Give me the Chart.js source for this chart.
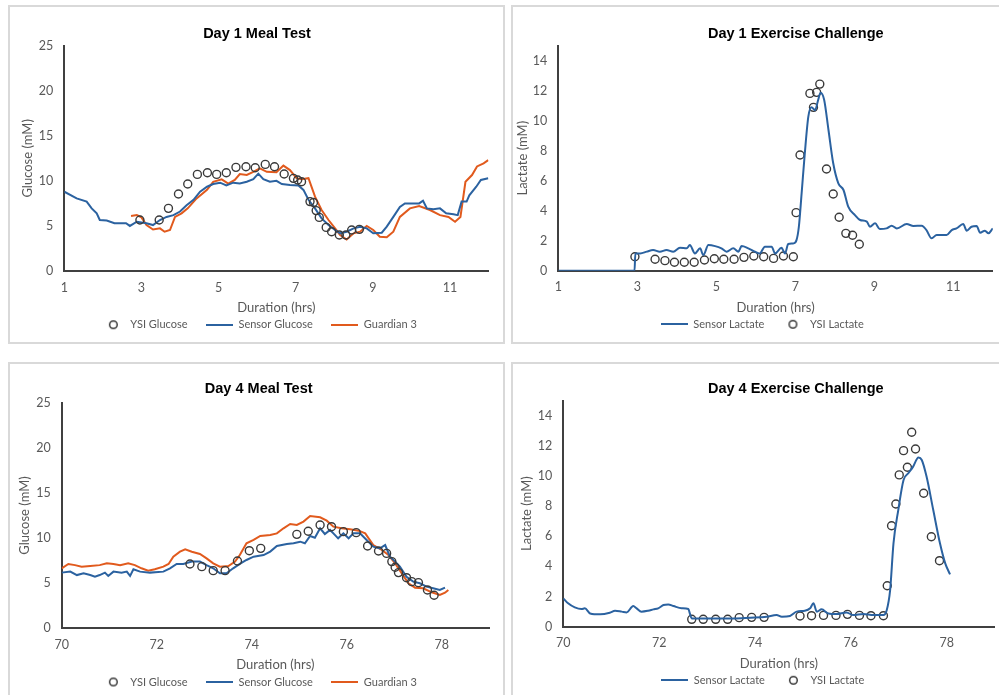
<!DOCTYPE html>
<html>
<head>
<meta charset="utf-8">
<script src="https://cdn.jsdelivr.net/npm/chart.js@4.4.1/dist/chart.umd.min.js"></script>
<style>
html,body{margin:0;padding:0;background:#fff;width:999px;height:695px;overflow:hidden;position:relative;}
.box{position:absolute;box-sizing:border-box;border:2px solid #d9d9d9;background:transparent;}
canvas{position:absolute;}
</style>
</head>
<body>
<script>
// ---------------- DATA ----------------
// Day 1 Meal Test
const d1MealSensorT = [1.0,1.32,1.58,1.71,1.84,1.92,2.1,2.3,2.6,2.7,2.88,3.13,3.3,3.48,3.65,3.83,4.0,4.17,4.35,4.52,4.7,4.86,5.04,5.2,5.38,5.55,5.73,5.9,6.03,6.16,6.33,6.5,6.64,6.85,7.07,7.2,7.33,7.5,7.67,7.85,8.02,8.15,8.32,8.5,8.67,8.84,9.01,9.23,9.36,9.53,9.7,9.83,10.05,10.2,10.3,10.4,10.57,10.74,10.9,11.09,11.2,11.3,11.43,11.5,11.68,11.8,11.99];
const d1MealSensorG = [8.8,8.06,7.7,6.95,6.4,5.66,5.6,5.3,5.3,5.0,5.47,5.3,5.1,5.66,6.0,6.2,6.6,7.3,7.9,8.8,9.35,9.65,9.8,9.5,9.8,9.7,9.9,10.2,10.8,10.2,9.9,10.0,9.65,9.55,9.5,9.0,7.9,6.95,5.84,5.1,4.55,4.18,4.36,4.73,4.92,4.73,4.18,4.25,4.92,6.0,7.1,7.5,7.5,7.5,7.8,6.95,6.84,6.95,6.4,6.3,6.2,7.7,7.7,8.4,9.35,10.1,10.3];
const d1MealG3T = [2.73,2.88,3.0,3.13,3.3,3.48,3.6,3.74,3.87,4.04,4.2,4.43,4.7,4.86,5.08,5.25,5.42,5.55,5.73,5.9,6.07,6.25,6.5,6.68,6.85,7.02,7.15,7.33,7.5,7.67,7.85,8.02,8.15,8.32,8.5,8.67,8.84,9.01,9.18,9.36,9.53,9.7,9.96,10.2,10.48,10.74,10.96,11.13,11.27,11.4,11.57,11.7,11.87,11.99];
const d1MealG3G = [6.1,6.2,5.95,5.1,4.6,4.73,4.36,4.55,6.0,6.4,6.95,8.06,9.0,9.9,10.17,9.7,10.1,10.76,10.65,11.0,11.4,11.0,10.95,11.7,11.2,10.3,10.17,10.3,8.25,6.77,5.66,4.73,4.0,3.5,4.18,4.36,5.0,4.55,3.8,3.74,4.36,6.0,6.95,7.2,6.77,6.2,6.0,5.47,6.0,9.9,10.65,11.6,11.95,12.3];
const d1MealYsiT = [2.96,3.46,3.7,3.96,4.2,4.45,4.71,4.95,5.2,5.45,5.71,5.95,6.21,6.45,6.7,6.94,7.05,7.15,7.37,7.46,7.53,7.61,7.79,7.93,8.13,8.3,8.45,8.65];
const d1MealYsiG = [5.66,5.66,6.95,8.54,9.65,10.72,10.9,10.72,10.9,11.5,11.57,11.46,11.83,11.57,10.76,10.28,10.1,9.9,7.7,7.6,6.7,5.95,4.84,4.36,4.0,4.0,4.55,4.62];

// Day 1 Exercise Challenge
const d1ExSensorT = [1.0,2.93,2.95,3.07,3.24,3.4,3.57,3.74,3.91,4.08,4.25,4.33,4.46,4.59,4.67,4.8,4.97,5.13,5.26,5.43,5.56,5.64,5.81,5.98,6.1,6.23,6.4,6.49,6.65,6.74,6.82,6.95,7.03,7.09,7.16,7.24,7.33,7.41,7.5,7.58,7.64,7.73,7.84,7.96,8.09,8.22,8.34,8.51,8.64,8.81,8.89,9.02,9.14,9.31,9.44,9.57,9.82,9.99,10.2,10.32,10.45,10.58,10.83,10.96,11.08,11.25,11.34,11.46,11.59,11.68,11.8,11.89,12.0];
const d1ExSensorL = [0,0,1.15,1.15,1.27,1.38,1.27,1.38,1.27,1.53,1.49,1.71,1.15,1.49,1.04,1.71,1.64,1.49,1.27,1.49,1.27,1.64,1.49,1.27,1.15,1.6,1.6,1.15,1.53,1.15,1.78,1.82,2.04,2.93,5.16,7.8,10.27,10.9,10.7,11.4,11.87,11.4,9.38,7.16,5.82,5.38,4.27,3.71,3.38,3.27,2.93,3.16,2.78,2.82,3.0,2.82,3.11,2.98,3.0,2.71,2.16,2.38,2.38,2.71,2.82,3.11,2.67,2.93,2.98,2.53,2.67,2.49,2.82];
const d1ExYsiT = [2.94,3.45,3.7,3.94,4.19,4.44,4.7,4.95,5.19,5.45,5.7,5.95,6.2,6.45,6.7,6.95,7.02,7.12,7.37,7.46,7.54,7.62,7.79,7.96,8.11,8.28,8.45,8.62];
const d1ExYsiL = [0.93,0.76,0.67,0.56,0.56,0.56,0.71,0.8,0.76,0.76,0.89,0.98,0.93,0.82,0.98,0.93,3.87,7.71,11.82,10.89,11.89,12.44,6.78,5.11,3.56,2.49,2.36,1.76];

// Day 4 Meal Test
const d4MealSensorT = [70,70.18,70.32,70.46,70.6,70.7,70.8,70.91,70.98,71.09,71.26,71.37,71.44,71.51,71.65,71.86,72.14,72.28,72.42,72.56,72.74,72.91,73.05,73.19,73.33,73.47,73.61,73.75,73.89,74.04,74.25,74.39,74.53,74.74,74.88,75.02,75.12,75.23,75.33,75.44,75.54,75.65,75.72,75.82,75.93,76.04,76.14,76.28,76.42,76.56,76.7,76.81,76.91,77.02,77.12,77.26,77.4,77.54,77.68,77.82,77.96,78.07];
const d4MealSensorG = [6.17,6.28,5.9,6.1,5.9,5.72,5.9,6.17,5.8,6.28,6.17,6.28,5.8,6.54,6.28,6.17,6.28,6.65,7.13,7.13,7.39,7.39,7.0,6.65,6.1,6.1,6.65,7.13,7.57,7.94,8.12,8.5,9.12,9.34,9.42,9.6,9.42,10.23,10.04,11.08,10.45,10.9,10.52,9.97,10.52,9.97,10.52,10.52,9.79,9.05,8.86,9.23,7.94,7.39,6.83,5.72,5.17,4.99,4.62,4.43,4.25,4.5];
const d4MealG3T = [70,70.14,70.28,70.42,70.6,70.8,70.95,71.09,71.23,71.4,71.54,71.68,71.82,71.96,72.14,72.25,72.35,72.49,72.6,72.74,72.91,73.05,73.19,73.33,73.51,73.65,73.75,73.89,74.04,74.18,74.39,74.53,74.67,74.81,74.95,75.09,75.23,75.44,75.58,75.72,75.89,76.07,76.25,76.39,76.56,76.74,76.88,77.02,77.16,77.3,77.44,77.61,77.79,77.96,78.07,78.14];
const d4MealG3G = [6.65,7.13,7.0,6.83,6.9,7.0,7.2,7.13,7.0,7.2,7.0,6.65,6.39,6.54,6.83,7.13,7.94,8.49,8.75,8.49,8.23,7.75,7.2,6.83,6.9,7.39,8.12,9.42,9.79,10.23,10.34,10.52,11.08,11.56,11.45,11.82,12.44,12.3,11.93,11.26,11.08,10.97,10.82,10.52,9.23,8.68,8.12,7.2,6.09,4.99,4.5,4.43,3.99,3.69,3.95,4.25];
const d4MealYsiT = [72.7,72.95,73.19,73.44,73.7,73.95,74.19,74.95,75.19,75.44,75.68,75.93,76.2,76.44,76.67,76.84,76.95,77.02,77.09,77.26,77.37,77.51,77.7,77.84];
const d4MealYsiG = [7.13,6.83,6.39,6.39,7.46,8.6,8.86,10.41,10.75,11.45,11.26,10.71,10.6,9.12,8.57,8.3,7.39,6.76,6.17,5.61,5.17,5.06,4.25,3.66];

// Day 4 Exercise Challenge
const d4ExSensorT = [70,70.1,70.24,70.38,70.45,70.56,70.77,70.97,71.08,71.22,71.32,71.46,71.53,71.63,71.77,71.88,71.98,72.09,72.19,72.3,72.47,72.61,72.64,72.68,72.85,73.2,73.55,73.9,74.24,74.45,74.56,74.73,74.87,75.04,75.15,75.22,75.29,75.39,75.53,75.7,75.91,76.05,76.26,76.47,76.68,76.75,76.82,76.89,76.99,77.1,77.2,77.3,77.41,77.48,77.58,77.72,77.86,77.97,78.07];
const d4ExSensorL = [1.88,1.55,1.28,1.17,1.22,0.88,0.82,0.93,1.06,1.0,0.95,1.37,1.22,1.0,1.06,1.15,1.22,1.44,1.48,1.37,1.22,1.17,0.88,0.55,0.55,0.55,0.55,0.6,0.66,0.77,0.66,0.71,1.0,1.06,1.22,1.55,1.0,1.15,0.88,0.84,0.95,0.77,0.84,0.77,0.77,1.11,2.43,5.53,7.74,9.73,10.18,10.62,11.22,11.06,9.96,7.74,5.53,4.2,3.47];
const d4ExYsiT = [72.68,72.92,73.18,73.43,73.67,73.93,74.19,74.94,75.18,75.43,75.69,75.93,76.18,76.42,76.68,76.76,76.85,76.94,77.01,77.1,77.18,77.27,77.35,77.52,77.68,77.85];
const d4ExYsiL = [0.49,0.49,0.49,0.49,0.6,0.62,0.62,0.71,0.73,0.75,0.75,0.82,0.75,0.73,0.73,2.72,6.7,8.14,10.07,11.68,10.58,12.9,11.79,8.85,5.97,4.38];

// Tick labels
const day1XTicks = [1,3,5,7,9,11];
const day4XTicks = [70,72,74,76,78];
const glucoseYTicks = [0,5,10,15,20,25];
const lactateYTicks = [0,2,4,6,8,10,12,14];

// ---------------- STYLE / LAYOUT ----------------
const SANS = 'Lato, "Open Sans", sans-serif';
const TITLE_FONT = '"Liberation Sans", Arial, sans-serif';
const GRAY = '#595959';
const AXIS = '#404040';
const BLUE = '#2b62a0';
const ORANGE = '#e15a1d';
const RING = '#3a3a3a';
const CANVAS_H = 360;
const AXT_SIZE = 13;                 // axis title font size
const TICK_SIZE = 12.5;              // tick label font size
const LEG = 11;                      // legend font size
const XSCALE_H = 37 + AXT_SIZE * 0.6; // x scale box height

function lineImg(color){
  const c = document.createElement('canvas'); c.width = 27; c.height = 2;
  const g = c.getContext('2d'); g.fillStyle = color; g.fillRect(0,0,27,2); return c;
}
function ringImg(){
  const c = document.createElement('canvas'); c.width = 27; c.height = 11;
  const g = c.getContext('2d'); g.strokeStyle = RING; g.lineWidth = 1.5;
  g.beginPath(); g.arc(15.5,5.5,3.8,0,Math.PI*2); g.stroke(); return c;
}
function xy(t, v){ return t.map((x,i)=>({x:x, y:v[i]})); }
function lineDs(label, t, v, color, smooth){
  return { label, data: xy(t,v), showLine:true, borderColor:color, backgroundColor:color, borderWidth:2,
    pointRadius:0, pointHoverRadius:0, tension:0, cubicInterpolationMode: smooth ? 'monotone' : 'default',
    legendImg: lineImg(color) };
}
function ysiDs(label, t, v){
  return { label, data: xy(t,v), showLine:false, pointStyle:'circle', pointRadius:4, pointHoverRadius:4,
    pointBorderWidth:1.4, pointBorderColor:RING, pointBackgroundColor:'rgba(255,255,255,0)',
    borderColor:RING, backgroundColor:'rgba(255,255,255,0)', legendImg: ringImg() };
}

const shiftPlugin = {
  id: 'panelShift',
  afterLayout(chart, args, o){
    const t = chart.titleBlock;
    if (t && o.title){
      const dx = o.title[0] - (t.left + t.right)/2, dy = o.title[1] - (t.top + t.bottom)/2;
      t.left += dx; t.right += dx; t.top += dy; t.bottom += dy;
    }
    const l = chart.legend;
    if (l && o.legend){
      const dx = o.legend[0] - (l.left + l.right)/2, dy = o.legend[1] - (l.top + o.legendPad + o.legendFont/2);
      l.left += dx; l.right += dx; l.top += dy; l.bottom += dy;
    }
  }
};

function makePanel(p, cfg){
  const box = document.createElement('div');
  box.className = 'box';
  box.style.left = p.box[0] + 'px'; box.style.top = p.box[1] + 'px';
  box.style.width = p.box[2] + 'px'; box.style.height = p.box[3] + 'px';
  document.body.appendChild(box);
  const cv = document.createElement('canvas');
  cv.width = p.box[2]; cv.height = CANVAS_H;
  cv.style.left = p.box[0] + 'px'; cv.style.top = p.box[1] + 'px';
  cv.style.width = p.box[2] + 'px'; cv.style.height = CANVAS_H + 'px';
  document.body.appendChild(cv);

  const pad = { left: 2, top: p.area[1] - 17.4, right: p.box[2] - p.area[2],
    bottom: CANVAS_H - p.area[3] - XSCALE_H - (LEG + p.legendPad + 10) };
  const tickFont = { family: SANS, size: TICK_SIZE };

  const chart = new Chart(cv, {
    type: 'scatter',
    data: { datasets: cfg.datasets },
    options: {
      responsive: false, animation: false, devicePixelRatio: 1, events: [],
      layout: { padding: pad },
      plugins: {
        tooltip: { enabled: false },
        title: { display: true, text: cfg.title, color: '#000',
          font: { family: TITLE_FONT, size: 14.5, weight: 'bold', lineHeight: 1.2 }, padding: 0 },
        legend: { display: true, position: 'bottom',
          labels: { usePointStyle: true, pointStyleWidth: 27, padding: p.legendPad, color: GRAY,
            font: { family: SANS, size: LEG },
            generateLabels: ch => ch.data.datasets.map((d,i)=>({ text: d.label, pointStyle: d.legendImg,
              fillStyle: 'rgba(0,0,0,0)', strokeStyle: 'rgba(0,0,0,0)', lineWidth: 0, hidden: false,
              datasetIndex: i, fontColor: GRAY })) } },
        panelShift: { title: p.titleAt, legend: p.legendAt, legendPad: p.legendPad, legendFont: LEG }
      },
      scales: {
        x: { type: 'linear', position: 'bottom', min: cfg.xMin, max: cfg.xMax,
          afterBuildTicks: s => { s.ticks = cfg.xTicks.map(v => ({ value: v })); },
          afterFit: s => { s.height = XSCALE_H; },
          grid: { display: false, drawTicks: false },
          border: { display: true, color: AXIS, width: 2 },
          ticks: { color: GRAY, font: tickFont, padding: 16.6 - TICK_SIZE * 0.6, autoSkip: false, maxRotation: 0, minRotation: 0 },
          title: { display: true, text: 'Duration (hrs)', color: GRAY, font: { family: SANS, size: AXT_SIZE }, padding: { top: 0, bottom: 0 } } },
        y: { type: 'linear', position: 'left', min: cfg.yMin, max: cfg.yMax,
          afterBuildTicks: s => { s.ticks = cfg.yTicks.map(v => ({ value: v })); },
          afterFit: s => { s.width = p.area[0] - 2; },
          grid: { display: false, drawTicks: false },
          border: { display: true, color: AXIS, width: 2 },
          ticks: { color: GRAY, font: tickFont, padding: 11 },
          title: { display: true, text: cfg.yLabel, color: GRAY, font: { family: SANS, size: AXT_SIZE }, padding: { top: p.yTitlePad - 0.6, bottom: 0 } } }
      }
    },
    plugins: [shiftPlugin]
  });
  for (let k = 0; k < 4; k++){
    const ca = chart.chartArea;
    if (!ca) break;
    const dl = p.area[0] - ca.left, dt = p.area[1] - ca.top, dr = ca.right - p.area[2], db = ca.bottom - p.area[3];
    if (Math.abs(dl) + Math.abs(dt) + Math.abs(dr) + Math.abs(db) < 0.1) break;
    pad.left += dl; pad.top += dt; pad.right += dr; pad.bottom += db;
    chart.update('none');
  }
  return chart;
}

// panel geometry (canvas coords relative to panel box)
const PANELS = [
  { box:[8,5,497,339],   area:[56.3,40.7,480.6,266.0], titleAt:[249.0,28.7], legendAt:[249.3,319.7], legendPad:18.5, yTitlePad:10.8 },
  { box:[511,5,570,339], area:[47.3,40.7,481.8,265.7], titleAt:[284.8,28.8], legendAt:[251.3,319.3], legendPad:13,   yTitlePad:3.1 },
  { box:[8,362,497,339], area:[53.7,40.7,481.2,266.3], titleAt:[250.7,26.8], legendAt:[249.3,320.0], legendPad:18.5, yTitlePad:8.1 },
  { box:[511,362,570,339], area:[52.3,38.6,483.6,264.7], titleAt:[284.8,26.8], legendAt:[251.8,318.3], legendPad:13,   yTitlePad:6.8 }
];

makePanel(PANELS[0], {
  title: 'Day 1 Meal Test', yLabel: 'Glucose (mM)', xMin: 1, xMax: 12, yMin: 0, yMax: 25,
  xTicks: day1XTicks, yTicks: glucoseYTicks,
  datasets: [
    ysiDs('YSI Glucose', d1MealYsiT, d1MealYsiG),
    lineDs('Sensor Glucose', d1MealSensorT, d1MealSensorG, BLUE, false),
    lineDs('Guardian 3', d1MealG3T, d1MealG3G, ORANGE, false)
  ]
});
makePanel(PANELS[1], {
  title: 'Day 1 Exercise Challenge', yLabel: 'Lactate (mM)', xMin: 1, xMax: 12, yMin: 0, yMax: 15,
  xTicks: day1XTicks, yTicks: lactateYTicks,
  datasets: [
    lineDs('Sensor Lactate', d1ExSensorT, d1ExSensorL, BLUE, true),
    ysiDs('YSI Lactate', d1ExYsiT, d1ExYsiL)
  ]
});
makePanel(PANELS[2], {
  title: 'Day 4 Meal Test', yLabel: 'Glucose (mM)', xMin: 70, xMax: 79, yMin: 0, yMax: 25,
  xTicks: day4XTicks, yTicks: glucoseYTicks,
  datasets: [
    ysiDs('YSI Glucose', d4MealYsiT, d4MealYsiG),
    lineDs('Sensor Glucose', d4MealSensorT, d4MealSensorG, BLUE, false),
    lineDs('Guardian 3', d4MealG3T, d4MealG3G, ORANGE, false)
  ]
});
makePanel(PANELS[3], {
  title: 'Day 4 Exercise Challenge', yLabel: 'Lactate (mM)', xMin: 70, xMax: 79, yMin: 0, yMax: 15,
  xTicks: day4XTicks, yTicks: lactateYTicks,
  datasets: [
    lineDs('Sensor Lactate', d4ExSensorT, d4ExSensorL, BLUE, true),
    ysiDs('YSI Lactate', d4ExYsiT, d4ExYsiL)
  ]
});
</script>
</body>
</html>
